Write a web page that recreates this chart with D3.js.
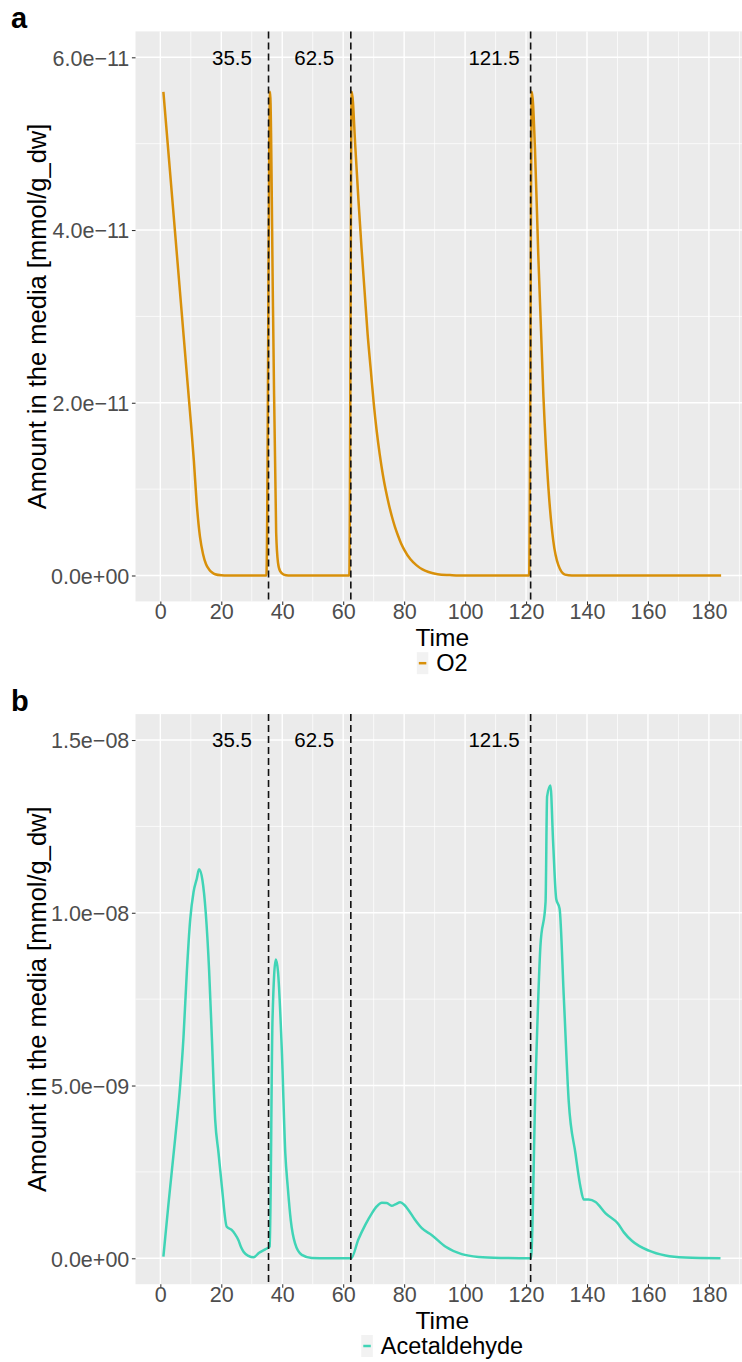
<!DOCTYPE html>
<html>
<head>
<meta charset="utf-8">
<script src="https://cdn.jsdelivr.net/npm/d3@7"></script>
<style>
  html, body { margin: 0; padding: 0; background: #ffffff; }
  svg { display: block; font-family: "Liberation Sans", Arial, Helvetica, sans-serif; }
</style>
</head>
<body>
<svg id="chart" width="742" height="1362"></svg>
<script>
// ---------------- DATA ----------------
const xTicks = [0, 20, 40, 60, 80, 100, 120, 140, 160, 180];
const eventTimes = [35.5, 62.5, 121.5];
const eventLabels = ["35.5", "62.5", "121.5"];

// Panel a: O2 amount in the media
const o2Time  = [1, 3, 5, 7, 9, 10, 11, 11.9, 13, 14, 15, 16, 17, 18, 20, 22,
                 34.8, 36, 37, 38, 38.6, 39.3, 40.5, 42,
                 62, 62.8, 64, 65, 66, 67, 68, 69, 70, 71, 72, 73, 74, 75, 76, 77, 78, 79, 80, 82, 84, 86, 88, 91, 95, 98,
                 121, 121.9, 122.9, 124, 125.7, 127.3, 128.9, 130.6, 132.8, 135, 184];
const o2Value = [5.6e-11, 4.75e-11, 3.9e-11, 3.05e-11, 2.2e-11, 1.78e-11, 1.33e-11, 0.85e-11, 0.45e-11, 0.25e-11, 0.13e-11, 0.07e-11, 0.035e-11, 0.015e-11, 0.003e-11, 0,
                 0, 5.6e-11, 3.0e-11, 0.5e-11, 0.15e-11, 0.05e-11, 0.01e-11, 0,
                 0, 5.6e-11, 4.95e-11, 4.35e-11, 3.8e-11, 3.3e-11, 2.8e-11, 2.4e-11, 2.0e-11, 1.67e-11, 1.4e-11, 1.17e-11, 0.98e-11, 0.82e-11, 0.68e-11, 0.56e-11, 0.46e-11, 0.37e-11, 0.3e-11, 0.19e-11, 0.12e-11, 0.07e-11, 0.04e-11, 0.015e-11, 0.005e-11, 0,
                 0, 5.6e-11, 4.96e-11, 3.72e-11, 2.07e-11, 1.03e-11, 0.41e-11, 0.12e-11, 0.01e-11, 0, 0];
const o2YTicks = [0, 2e-11, 4e-11, 6e-11];
const o2YTickLabels = ["0.0e+00", "2.0e\u221211", "4.0e\u221211", "6.0e\u221211"];
const o2YMinor = [1e-11, 3e-11, 5e-11];

// Panel b: Acetaldehyde amount in the media
const acTime  = [1, 2.7, 4.9, 6.5, 7.6, 8.7, 9.8, 10.9, 12.0, 12.7, 13.8, 14.9, 16.0, 16.9, 18.0, 19.1, 20.2, 21.8, 23.4, 24.5, 25.6, 26.5, 27.3, 28.9, 30.6, 32.4, 34.4, 35.9,
                 36.8, 37.9, 38.6, 39.9, 41.0, 41.8, 42.8, 44.2, 46.4, 49.7, 55,
                 62.6, 65.0, 67.2, 69.4, 71.0, 72.7, 74.3, 75.9, 77.3, 78.7, 80.0, 81.4, 83.5, 85.8, 89.1, 93.5, 98.9, 104.4, 112,
                 121.6, 123.1, 124.7, 126.4, 126.9, 128.0, 128.9, 129.9, 131.0, 132.4, 134.0, 136.2, 137.9, 138.9, 140.5, 142.8, 146.1, 150.2, 152.1, 154.8, 160.3, 165.7, 172.3, 183.8];
const acValue = [0.05e-9, 1.6e-9, 3.5e-9, 5.0e-9, 6.4e-9, 8.3e-9, 9.8e-9, 10.6e-9, 11.0e-9, 11.26e-9, 10.95e-9, 10.0e-9, 8.34e-9, 6.4e-9, 4.0e-9, 3.04e-9, 2.07e-9, 0.91e-9, 0.82e-9, 0.7e-9, 0.53e-9, 0.32e-9, 0.19e-9, 0.07e-9, 0.03e-9, 0.16e-9, 0.26e-9, 0.34e-9,
                 6.9e-9, 8.65e-9, 8.3e-9, 5.93e-9, 3.04e-9, 2.07e-9, 1.1e-9, 0.43e-9, 0.1e-9, 0.01e-9, 0,
                 0, 0.55e-9, 0.96e-9, 1.3e-9, 1.5e-9, 1.61e-9, 1.6e-9, 1.52e-9, 1.57e-9, 1.62e-9, 1.55e-9, 1.4e-9, 1.12e-9, 0.87e-9, 0.67e-9, 0.34e-9, 0.12e-9, 0.04e-9, 0.01e-9,
                 0, 5.03e-9, 9.02e-9, 10.32e-9, 13.36e-9, 13.68e-9, 12.0e-9, 10.4e-9, 10.12e-9, 7.53e-9, 4.54e-9, 3.04e-9, 2.04e-9, 1.7e-9, 1.7e-9, 1.63e-9, 1.3e-9, 1.0e-9, 0.75e-9, 0.5e-9, 0.22e-9, 0.08e-9, 0.02e-9, 0];
const acYTicks = [0, 5e-9, 1e-8, 1.5e-8];
const acYTickLabels = ["0.0e+00", "5.0e\u221209", "1.0e\u221208", "1.5e\u221208"];
const acYMinor = [2.5e-9, 7.5e-9, 1.25e-8];

// ---------------- DRAW ----------------
const svg = d3.select("#chart");
svg.append("rect").attr("width", 742).attr("height", 1362).attr("fill", "#ffffff");

const PANEL_LEFT = 135.5, PANEL_RIGHT = 749;
const x = d3.scaleLinear().domain([-8.15, 193.15]).range([PANEL_LEFT, PANEL_RIGHT]);

function drawPanel(cfg) {
  const g = svg.append("g");
  const y = d3.scaleLinear().domain(cfg.yDomain).range([cfg.bottom, cfg.top]);

  // background
  g.append("rect")
    .attr("x", PANEL_LEFT).attr("y", cfg.top)
    .attr("width", PANEL_RIGHT - PANEL_LEFT).attr("height", cfg.bottom - cfg.top)
    .attr("fill", "#EBEBEB");

  // minor grid
  const xMinor = xTicks.map(d => d + 10);
  g.selectAll(null).data(xMinor).enter().append("line")
    .attr("x1", d => x(d)).attr("x2", d => x(d))
    .attr("y1", cfg.top).attr("y2", cfg.bottom)
    .attr("stroke", "#ffffff").attr("stroke-width", 0.7);
  g.selectAll(null).data(cfg.yMinor).enter().append("line")
    .attr("x1", PANEL_LEFT).attr("x2", PANEL_RIGHT)
    .attr("y1", d => y(d)).attr("y2", d => y(d))
    .attr("stroke", "#ffffff").attr("stroke-width", 0.7);
  // major grid
  g.selectAll(null).data(xTicks).enter().append("line")
    .attr("x1", d => x(d)).attr("x2", d => x(d))
    .attr("y1", cfg.top).attr("y2", cfg.bottom)
    .attr("stroke", "#ffffff").attr("stroke-width", 1.4);
  g.selectAll(null).data(cfg.yTicks).enter().append("line")
    .attr("x1", PANEL_LEFT).attr("x2", PANEL_RIGHT)
    .attr("y1", d => y(d)).attr("y2", d => y(d))
    .attr("stroke", "#ffffff").attr("stroke-width", 1.4);

  // series line
  const line = d3.line()
    .x(d => x(d[0])).y(d => y(d[1]))
    .curve(d3.curveMonotoneX);
  const pts = cfg.time.map((t, i) => [t, cfg.values[i]]);
  g.append("path").datum(pts)
    .attr("d", line)
    .attr("fill", "none")
    .attr("stroke", cfg.color)
    .attr("stroke-width", 2.5)
    .attr("stroke-linejoin", "round");

  // event dashed lines
  g.selectAll(null).data(eventTimes).enter().append("line")
    .attr("x1", d => x(d)).attr("x2", d => x(d))
    .attr("y1", cfg.top).attr("y2", cfg.bottom)
    .attr("stroke", "#111111").attr("stroke-width", 1.6)
    .attr("stroke-dasharray", "7,4");

  // event labels
  g.selectAll(null).data(eventTimes).enter().append("text")
    .attr("x", d => x(d - 12))
    .attr("y", y(cfg.labelY) + 7.3)
    .attr("text-anchor", "middle")
    .attr("font-size", 20.5)
    .attr("fill", "#000000")
    .text((d, i) => eventLabels[i]);

  // axes
  const yAxis = d3.axisLeft(y).tickValues(cfg.yTicks)
    .tickFormat((d, i) => cfg.yTickLabels[i]).tickSize(3.6).tickPadding(2.6);
  const ya = g.append("g").attr("transform", `translate(${PANEL_LEFT},0)`).call(yAxis);
  ya.select(".domain").remove();
  ya.selectAll(".tick line").attr("stroke", "#333333").attr("stroke-width", 1.07);
  ya.selectAll(".tick text").attr("fill", "#4D4D4D").attr("font-size", 21.5)
    .attr("dy", "0.36em").attr("font-family", "'Liberation Sans', Arial, sans-serif");

  const xAxis = d3.axisBottom(x).tickValues(xTicks).tickFormat(d3.format("d"))
    .tickSize(3.6).tickPadding(2.6);
  const xa = g.append("g").attr("transform", `translate(0,${cfg.bottom})`).call(xAxis);
  xa.select(".domain").remove();
  xa.selectAll(".tick line").attr("stroke", "#333333").attr("stroke-width", 1.07);
  xa.selectAll(".tick text").attr("fill", "#4D4D4D").attr("font-size", 21.5)
    .attr("y", 17.8).attr("dy", 0)
    .attr("font-family", "'Liberation Sans', Arial, sans-serif");

  const midX = (PANEL_LEFT + PANEL_RIGHT) / 2;
  // x title
  g.append("text").attr("x", midX).attr("y", cfg.bottom + 44.5)
    .attr("text-anchor", "middle").attr("font-size", 24.5).attr("fill", "#000")
    .text("Time");
  // y title
  const midY = (cfg.top + cfg.bottom) / 2;
  g.append("text")
    .attr("transform", `translate(45.5,${midY}) rotate(-90)`)
    .attr("text-anchor", "middle").attr("font-size", 25.5).attr("fill", "#000")
    .text("Amount in the media [mmol/g_dw]");

  // legend
  const lg = g.append("g");
  const lt = lg.append("text").attr("font-size", 23.5).attr("fill", "#000").text(cfg.legend);
  const tw = lt.node().getComputedTextLength();
  const keyW = 11.5, gap = 8;
  const total = keyW + gap + tw;
  const lx = midX - total / 2;
  const keyTop = cfg.bottom + 50.8;
  lg.insert("rect", "text").attr("x", lx).attr("y", keyTop).attr("width", keyW).attr("height", 22)
    .attr("fill", "#F2F2F2");
  lg.append("line").attr("x1", lx + 2).attr("x2", lx + keyW - 2)
    .attr("y1", keyTop + 11).attr("y2", keyTop + 11)
    .attr("stroke", cfg.color).attr("stroke-width", 2.5);
  lt.attr("x", lx + keyW + gap).attr("y", cfg.bottom + 69.3);

  // panel tag
  svg.append("text").attr("x", 11).attr("y", cfg.tagY)
    .attr("font-size", 29).attr("font-weight", "bold").attr("fill", "#000")
    .text(cfg.tag);
}

drawPanel({
  top: 31.4, bottom: 601.4, yDomain: [-0.3e-11, 6.3e-11],
  yTicks: o2YTicks, yTickLabels: o2YTickLabels, yMinor: o2YMinor,
  time: o2Time, values: o2Value, color: "#D8900A",
  labelY: 6e-11, legend: "O2", tag: "a", tagY: 28.3
});

drawPanel({
  top: 714.1, bottom: 1284.2, yDomain: [-0.075e-8, 1.575e-8],
  yTicks: acYTicks, yTickLabels: acYTickLabels, yMinor: acYMinor,
  time: acTime, values: acValue, color: "#40D4B6",
  labelY: 1.5e-8, legend: "Acetaldehyde", tag: "b", tagY: 711
});
</script>
</body>
</html>
